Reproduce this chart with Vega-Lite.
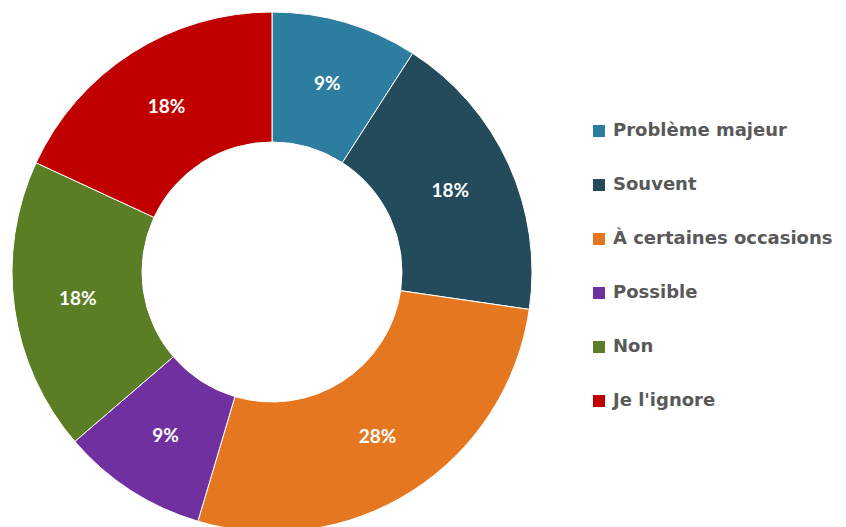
{
  "$schema": "https://vega.github.io/schema/vega-lite/v6.json",
  "width": 544,
  "height": 544,
  "padding": 0,
  "background": "white",
  "config": {"view": {"stroke": null}},
  "data": {
    "values": [
      {"cat": "Problème majeur", "value": 9.1, "label": "9%", "order": 1},
      {"cat": "Souvent", "value": 18.2, "label": "18%", "order": 2},
      {"cat": "À certaines occasions", "value": 27.3, "label": "28%", "order": 3},
      {"cat": "Possible", "value": 9.1, "label": "9%", "order": 4},
      {"cat": "Non", "value": 18.2, "label": "18%", "order": 5},
      {"cat": "Je l'ignore", "value": 18.1, "label": "18%", "order": 6}
    ]
  },
  "encoding": {
    "theta": {"field": "value", "type": "quantitative", "stack": true},
    "order": {"field": "order", "type": "quantitative"}
  },
  "layer": [
    {
      "mark": {"type": "arc", "outerRadius": 260, "innerRadius": 130, "stroke": "white", "strokeWidth": 1},
      "encoding": {
        "color": {
          "field": "cat",
          "type": "nominal",
          "sort": ["Problème majeur", "Souvent", "À certaines occasions", "Possible", "Non", "Je l'ignore"],
          "scale": {
            "domain": ["Problème majeur", "Souvent", "À certaines occasions", "Possible", "Non", "Je l'ignore"],
            "range": ["#2C7DA0", "#244B5C", "#E47720", "#7030A0", "#5B7E24", "#C00000"]
          },
          "legend": {
            "title": null,
            "orient": "none",
            "legendX": 590,
            "legendY": 122,
            "symbolType": "square",
            "symbolSize": 144,
            "symbolStrokeWidth": 0,
            "labelFont": "DejaVu Sans",
            "labelFontWeight": "bold",
            "labelFontSize": 18,
            "labelColor": "#595959",
            "labelOffset": 5,
            "rowPadding": 36,
            "labelLimit": 400
          }
        }
      }
    },
    {
      "mark": {"type": "text", "radius": 196, "font": "Lato", "fontWeight": "bold", "fontSize": 19, "color": "white"},
      "encoding": {
        "text": {"field": "label", "type": "nominal"}
      }
    }
  ]
}
